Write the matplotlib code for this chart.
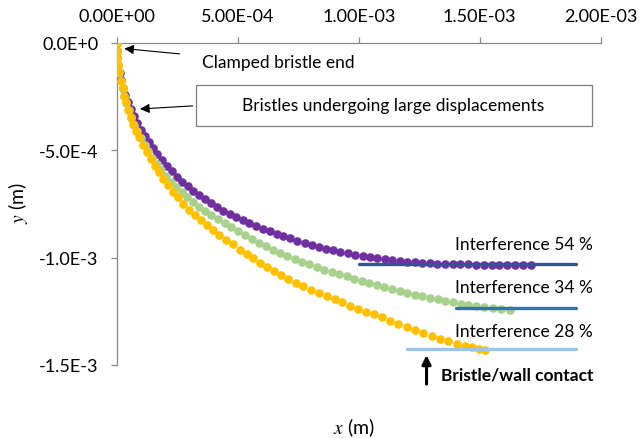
import numpy as np
import matplotlib
matplotlib.use('Agg')
import matplotlib.pyplot as plt
from matplotlib.patches import Rectangle
from matplotlib.ticker import FixedLocator

plt.rcParams['font.family'] = ['Lato', 'DejaVu Sans']
plt.rcParams['mathtext.fontset'] = 'stix'

# bristle centre-line coordinates, in mm (scaled to m below)
x_28 = [0.000, 0.000, 0.002, 0.006, 0.010, 0.017, 0.024, 0.031, 0.038, 0.047, 0.057, 0.068, 0.079,
        0.093, 0.109, 0.123, 0.140, 0.157, 0.175, 0.192, 0.212, 0.233, 0.254, 0.274, 0.299, 0.321,
        0.346, 0.371, 0.398, 0.424, 0.452, 0.480, 0.509, 0.536, 0.564, 0.591, 0.619, 0.648, 0.678,
        0.708, 0.740, 0.771, 0.804, 0.836, 0.869, 0.900, 0.931, 0.963, 0.997, 1.030, 1.062, 1.095,
        1.129, 1.163, 1.198, 1.232, 1.266, 1.301, 1.335, 1.369, 1.404, 1.438, 1.469, 1.497, 1.523]
y_28 = [0.000, -0.037, -0.068, -0.104, -0.138, -0.177, -0.212, -0.247, -0.277, -0.313, -0.347,
        -0.378, -0.409, -0.440, -0.476, -0.510, -0.541, -0.572, -0.603, -0.634, -0.662, -0.693,
        -0.719, -0.751, -0.777, -0.801, -0.823, -0.846, -0.871, -0.893, -0.916, -0.938, -0.963,
        -0.983, -1.004, -1.023, -1.043, -1.061, -1.081, -1.100, -1.117, -1.134, -1.150, -1.166,
        -1.180, -1.195, -1.209, -1.224, -1.238, -1.251, -1.264, -1.278, -1.293, -1.309, -1.324,
        -1.337, -1.351, -1.364, -1.378, -1.390, -1.401, -1.410, -1.418, -1.424, -1.429]

x_34 = [0.000, 0.000, 0.001, 0.005, 0.010, 0.017, 0.024, 0.031, 0.039, 0.049, 0.060, 0.072, 0.085,
        0.099, 0.114, 0.129, 0.146, 0.164, 0.182, 0.202, 0.223, 0.244, 0.267, 0.290, 0.314, 0.338,
        0.364, 0.390, 0.418, 0.445, 0.473, 0.501, 0.530, 0.558, 0.587, 0.617, 0.646, 0.676, 0.705,
        0.736, 0.766, 0.796, 0.827, 0.857, 0.888, 0.919, 0.950, 0.981, 1.012, 1.043, 1.074, 1.106,
        1.137, 1.169, 1.200, 1.231, 1.263, 1.294, 1.326, 1.358, 1.390, 1.421, 1.453, 1.485, 1.519,
        1.554, 1.589, 1.626]
y_34 = [0.000, -0.037, -0.069, -0.105, -0.139, -0.178, -0.214, -0.248, -0.281, -0.315, -0.349,
        -0.381, -0.413, -0.444, -0.475, -0.505, -0.535, -0.564, -0.593, -0.620, -0.647, -0.672,
        -0.697, -0.720, -0.742, -0.764, -0.783, -0.803, -0.822, -0.841, -0.859, -0.878, -0.896,
        -0.913, -0.930, -0.947, -0.963, -0.978, -0.993, -1.007, -1.020, -1.032, -1.044, -1.056,
        -1.067, -1.078, -1.088, -1.099, -1.109, -1.119, -1.128, -1.138, -1.147, -1.156, -1.165,
        -1.173, -1.181, -1.188, -1.195, -1.202, -1.208, -1.214, -1.219, -1.224, -1.229, -1.234,
        -1.239, -1.242]

x_54 = [0.000, 0.000, 0.002, 0.006, 0.011, 0.018, 0.026, 0.035, 0.045, 0.057, 0.070, 0.083, 0.098,
        0.114, 0.131, 0.148, 0.166, 0.185, 0.205, 0.226, 0.247, 0.269, 0.292, 0.315, 0.339, 0.364,
        0.389, 0.414, 0.440, 0.467, 0.494, 0.521, 0.548, 0.576, 0.603, 0.631, 0.660, 0.688, 0.717,
        0.746, 0.776, 0.805, 0.834, 0.864, 0.894, 0.924, 0.955, 0.985, 1.016, 1.046, 1.077, 1.107,
        1.138, 1.169, 1.200, 1.231, 1.262, 1.293, 1.324, 1.355, 1.388, 1.420, 1.452, 1.484, 1.517,
        1.549, 1.581, 1.613, 1.645, 1.678, 1.710]
y_54 = [0.000, -0.037, -0.069, -0.105, -0.140, -0.175, -0.209, -0.243, -0.276, -0.309, -0.342,
        -0.373, -0.404, -0.434, -0.463, -0.492, -0.520, -0.547, -0.573, -0.598, -0.623, -0.646,
        -0.668, -0.690, -0.710, -0.729, -0.747, -0.765, -0.781, -0.797, -0.812, -0.826, -0.840,
        -0.853, -0.866, -0.878, -0.889, -0.900, -0.911, -0.921, -0.931, -0.940, -0.949, -0.958,
        -0.966, -0.973, -0.980, -0.986, -0.993, -0.998, -1.003, -1.008, -1.012, -1.016, -1.019,
        -1.022, -1.024, -1.026, -1.028, -1.029, -1.030, -1.031, -1.032, -1.033, -1.033, -1.034,
        -1.034, -1.034, -1.034, -1.035, -1.035]

# wall positions (mm): y level, x start, x end
wall_y = [-1.030, -1.236, -1.425]
wall_x0 = [1.0, 1.4, 1.2]
wall_x1 = [1.9, 1.9, 1.9]
labels = ['Interference 54 %', 'Interference 34 %', 'Interference 28 %']

x_ticks = [0.0, 5.0e-4, 1.0e-3, 1.5e-3, 2.0e-3]
x_ticklabels = ['0.00E+00', '5.00E-04', '1.00E-03', '1.50E-03', '2.00E-03']
y_ticks = [0.0, -5.0e-4, -1.0e-3, -1.5e-3]
y_ticklabels = ['0.0E+0', '-5.0E-4', '-1.0E-3', '-1.5E-3']

mm = 1e-3
fig = plt.figure(figsize=(6.39, 4.39), dpi=100)
ax = fig.add_axes([0.183, 0.1663, 0.757, 0.734])

ax.plot(np.array(x_54) * mm, np.array(y_54) * mm, 'o', color='#7030A0', ms=6.2, mec='none', zorder=3)
ax.plot(np.array(x_34) * mm, np.array(y_34) * mm, 'o', color='#A9D18E', ms=6.2, mec='none', zorder=4)
ax.plot(np.array(x_28) * mm, np.array(y_28) * mm, 'o', color='#FFC000', ms=6.2, mec='none', zorder=5)

wall_colors = ['#2F5597', '#2E75B6', '#9DC3E6']
for yw, xa, xb, c in zip(wall_y, wall_x0, wall_x1, wall_colors):
    ax.plot([xa * mm, xb * mm], [yw * mm, yw * mm], color=c, lw=2.4, solid_capstyle='round', zorder=6)

label_y = [-0.937, -1.138, -1.340]
for ly, txt in zip(label_y, labels):
    ax.text(1.397 * mm, ly * mm, txt, fontsize=12.5, va='center', ha='left')

ax.set_xlim(0, 2.0e-3)
ax.set_ylim(-1.5e-3, 0)
ax.xaxis.set_major_locator(FixedLocator(x_ticks))
ax.set_xticklabels(x_ticklabels)
ax.yaxis.set_major_locator(FixedLocator(y_ticks))
ax.set_yticklabels(y_ticklabels)
ax.xaxis.tick_top()
ax.tick_params(axis='both', direction='out', length=4.5, width=0.9, color='#898989',
               labelsize=13, pad=9)

for side in ['right', 'bottom']:
    ax.spines[side].set_visible(False)
for side in ['left', 'top']:
    ax.spines[side].set_color('#898989')
    ax.spines[side].set_linewidth(0.9)

# annotations
ax.annotate('', xy=(0.019 * mm, -0.026 * mm), xytext=(0.271 * mm, -0.053 * mm),
            arrowprops=dict(arrowstyle='-|>', color='black', lw=0.8, mutation_scale=14), zorder=7)
ax.text(0.351 * mm, -0.091 * mm, 'Clamped bristle end', fontsize=12.5, va='center', ha='left')

ax.add_patch(Rectangle((0.325 * mm, -0.386 * mm), 1.641 * mm, 0.191 * mm, fill=False,
                       ec='#7F7F7F', lw=0.9, clip_on=False))
ax.text(1.143 * mm, -0.290 * mm, 'Bristles undergoing large displacements', fontsize=12.5,
        va='center', ha='center')
ax.annotate('', xy=(0.084 * mm, -0.309 * mm), xytext=(0.325 * mm, -0.293 * mm),
            arrowprops=dict(arrowstyle='-|>', color='black', lw=0.8, mutation_scale=14), zorder=7)

ax.annotate('', xy=(1.280 * mm, -1.441 * mm), xytext=(1.280 * mm, -1.602 * mm),
            arrowprops=dict(arrowstyle='-|>', color='black', lw=2.2, mutation_scale=13),
            annotation_clip=False)
ax.text(1.338 * mm, -1.542 * mm, 'Bristle/wall contact', fontsize=12.5, fontweight='bold',
        va='center', ha='left', clip_on=False)

fig.text(0.554, 0.025, '$x$ (m)', fontsize=14, ha='center', va='center')
fig.text(0.028, 0.538, '$y$ (m)', fontsize=14, ha='center', va='center', rotation=90)

fig.savefig('out.png', dpi=100)
